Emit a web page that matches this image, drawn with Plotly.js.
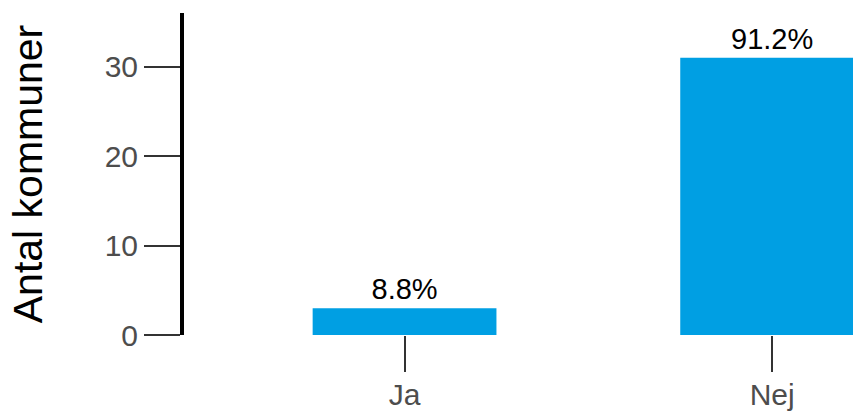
<!DOCTYPE html>
<html>
<head>
<meta charset="utf-8">
<script src="https://cdn.plot.ly/plotly-3.0.1.min.js"></script>
<style>
  html, body { margin: 0; padding: 0; background: #ffffff; }
  #chart { width: 853px; height: 412px; }
</style>
</head>
<body>
<div id="chart"></div>
<script>
const categories = ["Ja", "Nej"];
const counts = [3, 31];
const pctLabels = ["8.8%", "91.2%"];
const yTicks = [0, 10, 20, 30];

const trace = {
  type: "bar",
  x: categories,
  y: counts,
  text: pctLabels,
  textposition: "outside",
  textfont: { family: "Liberation Sans, Arial, sans-serif", size: 29, color: "#000000" },
  marker: { color: "#009FE3" },
  width: 0.5,
  cliponaxis: false,
  hoverinfo: "none"
};

const layout = {
  width: 853,
  height: 412,
  margin: { l: 184, r: 0, t: 13, b: 77 },
  paper_bgcolor: "#ffffff",
  plot_bgcolor: "#ffffff",
  showlegend: false,
  font: { family: "Liberation Sans, Arial, sans-serif" },
  xaxis: {
    type: "category",
    range: [-0.6, 1.22],
    showgrid: false,
    zeroline: false,
    showline: false,
    ticks: "outside",
    ticklen: 36,
    tickwidth: 2,
    tickcolor: "#333333",
    tickfont: { size: 30, color: "#4D4D4D" },
    ticklabelstandoff: -3,
    fixedrange: true
  },
  yaxis: {
    range: [0, 36],
    tickvals: yTicks,
    ticktext: yTicks.map(String),
    showgrid: false,
    zeroline: false,
    showline: true,
    linecolor: "#000000",
    linewidth: 4,
    ticks: "outside",
    ticklen: 36,
    tickwidth: 2,
    tickcolor: "#333333",
    tickfont: { size: 30, color: "#4D4D4D" },
    title: { text: "Antal kommuner", font: { size: 41, color: "#000000" }, standoff: 50 },
    fixedrange: true
  }
};

Plotly.newPlot("chart", [trace], layout, { displayModeBar: false, staticPlot: true });
</script>
</body>
</html>
